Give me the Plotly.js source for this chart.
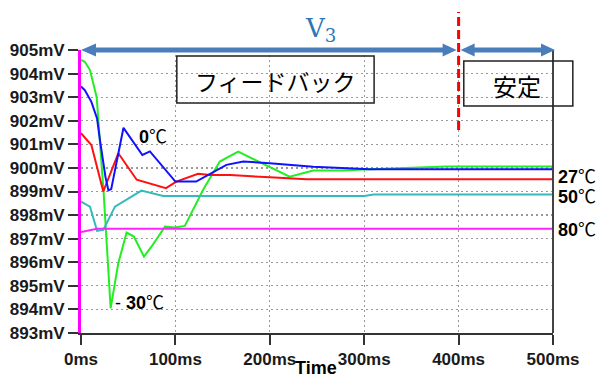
<!DOCTYPE html>
<html>
<head>
<meta charset="utf-8">
<script src="https://cdn.plot.ly/plotly-3.0.1.min.js"></script>
<style>html,body{margin:0;padding:0;background:#fff;}#chart{width:606px;height:379px;}</style>
</head>
<body>
<div id="chart"></div>
<script>
// ---- data (time in ms, voltage in mV) ----
const xTickVals = [0, 100, 200, 300, 400, 500];
const xTickText = ['0ms', '100ms', '200ms', '300ms', '400ms', '500ms'];
const yTickVals = [893, 894, 895, 896, 897, 898, 899, 900, 901, 902, 903, 904, 905];
const yTickText = ['893mV', '894mV', '895mV', '896mV', '897mV', '898mV', '899mV', '900mV', '901mV', '902mV', '903mV', '904mV', '905mV'];

const greenT = [0, 4, 9.5, 16.6, 24, 26.5, 31.4, 39.5, 48.3, 56, 66.7, 74.8, 89, 99.5, 110, 129.4, 147, 166.5, 221, 246, 277, 300, 348, 387, 500];
const greenV = [904.58, 904.5, 904.15, 903.0, 898.94, 897.37, 894.05, 895.96, 897.26, 897.09, 896.24, 896.67, 897.51, 897.47, 897.54, 899.07, 900.27, 900.69, 899.63, 899.89, 899.89, 899.93, 899.99, 900.06, 900.06];

const tealT = [0, 9.5, 17, 23.6, 36, 48, 64, 87, 300, 310, 500];
const tealV = [898.57, 898.36, 897.33, 897.37, 898.36, 898.64, 899.04, 898.81, 898.81, 898.87, 898.87];

const magentaT = [0, 17, 500];
const magentaV = [897.28, 897.42, 897.42];

const redT = [0, 11, 23.6, 39.5, 59, 90, 101, 124, 137, 158, 200, 239, 500];
const redV = [901.47, 900.97, 899.0, 900.62, 899.5, 899.14, 899.42, 899.75, 899.7, 899.7, 899.6, 899.52, 899.52];

const blueT = [0, 4, 11, 17, 20, 26, 29, 32, 45, 65, 73, 100, 122, 154, 172, 200, 246, 306, 500];
const blueV = [903.45, 903.3, 902.8, 902.1, 901.2, 899.6, 899.05, 899.1, 901.7, 900.55, 900.7, 899.42, 899.42, 900.13, 900.27, 900.2, 900.05, 899.94, 899.94];

const seriesNames = ['-30℃', '50℃', '80℃', '27℃', '0℃'];

function line(x, y, color, name) {
  return {x: x, y: y, type: 'scatter', mode: 'lines', name: name,
          line: {color: color, width: 2}, hoverinfo: 'skip', cliponaxis: true};
}

const traces = [
  line(greenT, greenV, '#22EE22', seriesNames[0]),
  line(tealT, tealV, '#33BBBB', seriesNames[1]),
  line(magentaT, magentaV, '#FF22FF', seriesNames[2]),
  line(redT, redV, '#FF1111', seriesNames[3]),
  line(blueT, blueV, '#1111FF', seriesNames[4])
];

const tickFont = {family: 'Liberation Sans, Arial, sans-serif', size: 17, color: '#1a1a1a', weight: 'bold'};
const labFont = {family: 'Liberation Sans, Arial, Noto Sans CJK JP, sans-serif', size: 18, color: '#000'};
const arrowColor = '#4A7EBB';

function tri(xa, path) {
  return {type: 'path', xref: 'paper', yref: 'paper', xsizemode: 'pixel', ysizemode: 'pixel',
          xanchor: xa, yanchor: 1, path: path, fillcolor: arrowColor, line: {width: 0}, layer: 'above'};
}

const layout = {
  width: 606, height: 379,
  margin: {l: 81, r: 53, t: 50, b: 46},
  paper_bgcolor: '#fff', plot_bgcolor: '#fff',
  showlegend: false,
  xaxis: {
    range: [0, 500], tickmode: 'array', tickvals: xTickVals, ticktext: xTickText,
    showline: true, linecolor: '#333', linewidth: 2,
    ticks: 'outside', ticklen: 10, tickwidth: 2, tickcolor: '#333',
    showgrid: true, gridcolor: '#999', griddash: '2px,3px', gridwidth: 1.3,
    zeroline: false, tickfont: tickFont, fixedrange: true
  },
  yaxis: {
    range: [893, 905], tickmode: 'array', tickvals: yTickVals, ticktext: yTickText,
    showline: true, linecolor: '#FF00FF', linewidth: 3,
    ticks: 'outside', ticklen: 10, tickwidth: 2, tickcolor: '#333',
    showgrid: true, gridcolor: '#999', griddash: '2px,3px', gridwidth: 1.3,
    zeroline: false, tickfont: tickFont, fixedrange: true
  },
  shapes: [
    {type: 'line', xref: 'paper', yref: 'paper', x0: 1, x1: 1, y0: 0, y1: 1, line: {color: '#444', width: 2}},
    {type: 'line', xref: 'paper', yref: 'paper', x0: 0.8, x1: 0.8, y0: 0.717, y1: 1.134, line: {color: '#FF0000', width: 3, dash: '9px,4px'}, layer: 'above'},
    {type: 'line', xref: 'paper', yref: 'paper', x0: 0.02, x1: 0.78, y0: 1, y1: 1, line: {color: arrowColor, width: 5}, layer: 'above'},
    {type: 'line', xref: 'paper', yref: 'paper', x0: 0.82, x1: 0.985, y0: 1, y1: 1, line: {color: arrowColor, width: 5}, layer: 'above'},
    tri(0, 'M0,0 L15,6.5 L15,-6.5 Z'),
    tri(0.8, 'M-2,0 L-16,6.5 L-16,-6.5 Z'),
    tri(0.8, 'M2,0 L16,6.5 L16,-6.5 Z'),
    tri(1, 'M2,0 L-12,6.5 L-12,-6.5 Z'),
    {type: 'rect', xref: 'paper', yref: 'paper', x0: 0.203, x1: 0.621, y0: 0.813, y1: 0.979, line: {color: '#222', width: 1.5}, fillcolor: 'rgba(0,0,0,0)', layer: 'above'},
    {type: 'rect', xref: 'paper', yref: 'paper', x0: 0.811, x1: 1.042, y0: 0.802, y1: 0.961, line: {color: '#222', width: 1.5}, fillcolor: 'rgba(0,0,0,0)', layer: 'above'}
  ],
  annotations: [
    {xref: 'paper', yref: 'paper', x: 0.508, y: 1.071, showarrow: false, xanchor: 'center', yanchor: 'middle',
     text: 'V<sub>3</sub>', font: {family: 'DejaVu Serif, Liberation Serif, serif', size: 26, color: '#2E75B6'}},
    {xref: 'paper', yref: 'paper', x: 0.412, y: 0.89, showarrow: false, xanchor: 'center', yanchor: 'middle',
     text: 'フィードバック', font: {family: 'Noto Sans CJK JP, sans-serif', size: 23, color: '#000'}},
    {xref: 'paper', yref: 'paper', x: 0.924, y: 0.873, showarrow: false, xanchor: 'center', yanchor: 'middle',
     text: '安定', font: {family: 'Noto Sans CJK JP, sans-serif', size: 24, color: '#000'}},
    {xref: 'paper', yref: 'paper', x: 0.118, y: 0.693, showarrow: false, xanchor: 'left', yanchor: 'middle',
     text: '<b>0</b>℃', font: labFont},
    {xref: 'paper', yref: 'paper', x: 1.006, y: 0.55, showarrow: false, xanchor: 'left', yanchor: 'middle',
     text: '<b>27</b>℃', font: labFont},
    {xref: 'paper', yref: 'paper', x: 1.006, y: 0.479, showarrow: false, xanchor: 'left', yanchor: 'middle',
     text: '<b>50</b>℃', font: labFont},
    {xref: 'paper', yref: 'paper', x: 1.006, y: 0.364, showarrow: false, xanchor: 'left', yanchor: 'middle',
     text: '<b>80</b>℃', font: labFont},
    {xref: 'paper', yref: 'paper', x: 0.068, y: 0.106, showarrow: false, xanchor: 'left', yanchor: 'middle',
     text: '- <b>30</b>℃', font: labFont},
    {xref: 'paper', yref: 'paper', x: 0.497, y: -0.124, showarrow: false, xanchor: 'center', yanchor: 'middle',
     text: '<b>Time</b>', font: {family: 'Liberation Sans, Arial, sans-serif', size: 18, color: '#000'}}
  ]
};

Plotly.newPlot('chart', traces, layout, {staticPlot: true, displayModeBar: false});
</script>
</body>
</html>
